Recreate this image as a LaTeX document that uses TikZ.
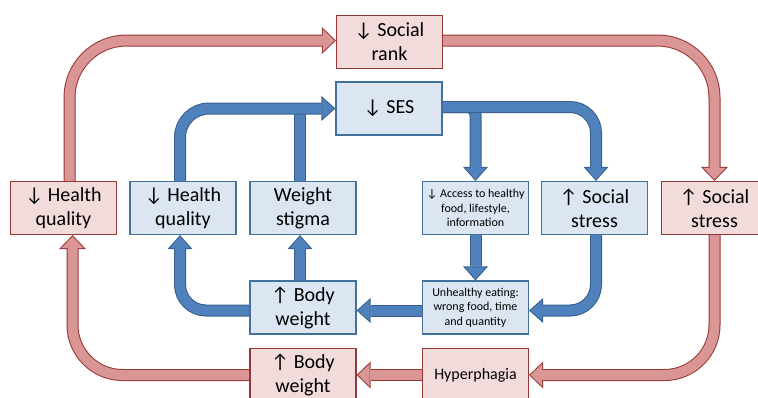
\documentclass[tikz,border=0pt]{standalone}
\usepackage{fontspec}
\setmainfont{Carlito}
\usetikzlibrary{arrows.meta,backgrounds}

\definecolor{redbg}{HTML}{F2DCDB}
\definecolor{redline}{HTML}{953735}
\definecolor{redfill}{HTML}{D99694}
\definecolor{bluebg}{HTML}{DCE6F2}
\definecolor{blueedge}{HTML}{41719C}
\definecolor{blueline}{HTML}{385D8A}
\definecolor{bluefill}{HTML}{4F81BD}

\tikzset{
  box/.style={line width=1.2pt, minimum width=106pt, minimum height=53pt, align=center, inner sep=2pt},
  redbox/.style={box, draw=redline, fill=redbg},
  bluebox/.style={box, draw=blueedge, fill=bluebg},
  bigtext/.style={font=\fontsize{20}{24}\selectfont},
  smalltext/.style={font=\fontsize{12}{14.5}\selectfont},
  redarrow/.style={preaction={draw=redline, line width=12pt, shorten >=0pt,
      -{Triangle[length=14pt,width=27pt,line width=0pt]}},
    draw=redfill, line width=10pt, shorten >=1.44pt,
    -{Triangle[length=11.56pt,width=22.3pt,line width=0pt]}},
  bluearrow/.style={preaction={draw=blueline, line width=12pt, shorten >=0pt,
      -{Triangle[length=14pt,width=25pt,line width=0pt]}},
    draw=bluefill, line width=10pt, shorten >=1.5pt,
    -{Triangle[length=11.5pt,width=20.5pt,line width=0pt]}},
  blueshaft/.style={preaction={draw=blueline, line width=12pt}, draw=bluefill, line width=10pt},
}

\begin{document}
\begin{tikzpicture}[x=1pt, y=-1pt]
\clip (0,0) rectangle (758,397);

% top row
\node[redbox, bigtext] (rank) at (389.5,42) {↓ Social\\rank};
\node[bluebox, bigtext] (ses) at (389,108.5) {↓ SES};

% middle row
\node[redbox, bigtext] (healthR) at (63.5,208) {↓ Health\\quality};
\node[bluebox, bigtext] (healthB) at (183,208) {↓ Health\\quality};
\node[bluebox, bigtext] (stigma) at (303,208) {Weight\\stigma};
\node[bluebox, smalltext] (access) at (475.5,208) {↓ Access to healthy\\food, lifestyle,\\information};
\node[bluebox, bigtext] (stressB) at (594.5,208) {↑ Social\\stress};
\node[redbox, bigtext] (stressR) at (714.5,208) {↑ Social\\stress};

% lower rows
\node[bluebox, bigtext] (weightB) at (303,307.5) {↑ Body\\weight};
\node[bluebox, smalltext] (eating) at (475.5,307.5) {Unhealthy eating:\\wrong food, time\\and quantity};
\node[redbox, bigtext] (weightR) at (303,375) {↑ Body\\weight};
\node[redbox, font=\fontsize{16}{19}\selectfont] (hyper) at (475.5,375) {Hyperphagia};

\begin{scope}[on background layer]
% outer loop
\draw[redarrow, rounded corners=57pt] ([xshift=6pt]healthR.north) |- ([yshift=1.5pt]rank.west);
\draw[redarrow, rounded corners=57pt] ([yshift=1.5pt]rank.east) -| (stressR.north);
\draw[redarrow, rounded corners=50pt] (stressR.south) |- (hyper.east);
\draw[redarrow] (hyper.west) -- (weightR.east);
\draw[redarrow, rounded corners=50pt] (weightR.west) -| ([xshift=9pt]healthR.south);

% inner loop
\draw[blueshaft] ([xshift=-3pt]stigma.north) -- ([xshift=-3pt]stigma.north |- ses.west);
\draw[bluearrow, rounded corners=29pt] ([xshift=-3pt]healthB.north) |- (ses.west);
\draw[bluearrow, rounded corners=8pt] ([yshift=1.5pt]ses.east) -| (access.north);
\draw[bluearrow, rounded corners=26pt] ([yshift=1.5pt]ses.east) -| ([xshift=1.5pt]stressB.north);
\draw[bluearrow] (access.south) -- (eating.north);
\draw[bluearrow, rounded corners=26pt] ([xshift=1.5pt]stressB.south) |- ([yshift=-3pt]eating.east);
\draw[bluearrow] ([yshift=-3pt]eating.west) -- ([yshift=-3pt]weightB.east);
\draw[bluearrow, rounded corners=26pt] ([yshift=-3pt]weightB.west) -| ([xshift=-3pt]healthB.south);
\draw[bluearrow] ([xshift=-3pt]weightB.north) -- ([xshift=-3pt]stigma.south);
\end{scope}
\end{tikzpicture}
\end{document}
